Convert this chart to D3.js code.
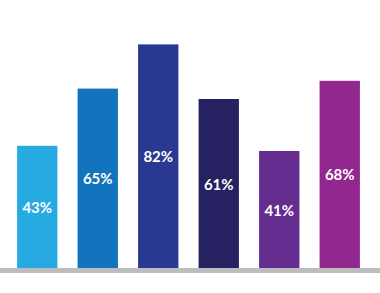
<!DOCTYPE html>
<html>
<head>
<meta charset="utf-8">
<script src="https://cdn.jsdelivr.net/npm/d3@7"></script>
<style>
html,body{margin:0;padding:0;background:#fff;overflow:hidden;}
svg{display:block;}
</style>
</head>
<body>
<svg id="chart" width="380" height="293"></svg>
<script>
const categories = ["A", "B", "C", "D", "E", "F"];
const values = [43, 65, 82, 61, 41, 68];
const labels = ["43%", "65%", "82%", "61%", "41%", "68%"];
const colors = ["#27aae1", "#1174bc", "#293891", "#262261", "#662d91", "#92278f"];

const svg = d3.select("#chart");
const baseY = 268;

const x = d3.scaleBand().domain(categories).range([7, 370]).paddingInner(1/3).paddingOuter(1/6);
const y = d3.scaleLinear().domain([-4, 100]).range([baseY, baseY - 104 * 2.6]);

svg.selectAll("rect.bar").data(values).enter().append("rect")
  .attr("class", "bar")
  .attr("x", (d, i) => x(categories[i]))
  .attr("width", x.bandwidth())
  .attr("y", d => y(d))
  .attr("height", d => y(-4) - y(d))
  .attr("fill", (d, i) => colors[i]);

svg.append("rect")
  .attr("x", 0).attr("y", baseY).attr("width", 380).attr("height", 5)
  .attr("fill", "#bdbdbd");

svg.selectAll("text.lbl").data(values).enter().append("text")
  .attr("class", "lbl")
  .attr("x", (d, i) => x(categories[i]) + x.bandwidth() / 2)
  .attr("y", d => (y(d) + y(-4)) / 2)
  .attr("text-anchor", "middle")
  .attr("dominant-baseline", "central")
  .attr("fill", "#fff")
  .attr("font-family", "Lato, sans-serif")
  .attr("font-weight", "bold")
  .attr("font-size", 15)
  .text((d, i) => labels[i]);
</script>
</body>
</html>
